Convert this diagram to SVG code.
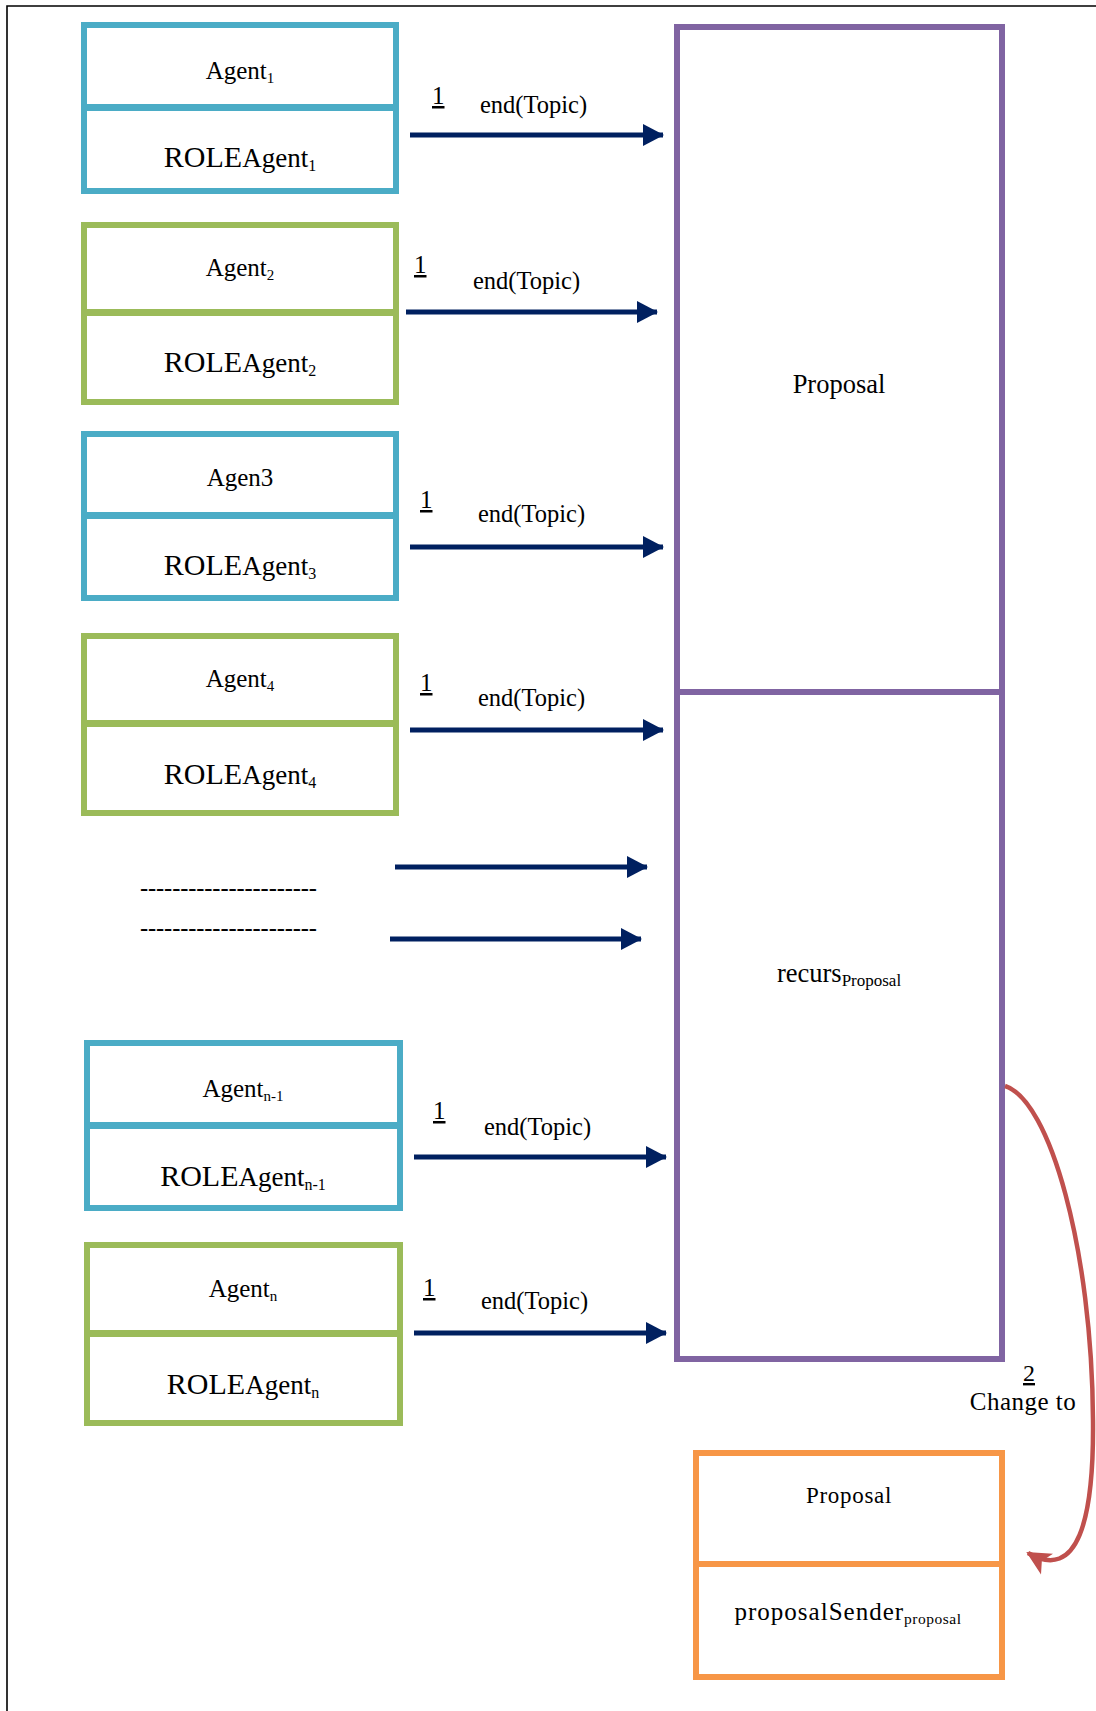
<svg xmlns="http://www.w3.org/2000/svg" width="1096" height="1711" viewBox="0 0 1096 1711">
<defs>
<style>
text{font-family:"Liberation Serif","Times New Roman",serif;fill:#000;text-anchor:middle}
.blue{fill:#fff;stroke:#4BACC6;stroke-width:6}
.green{fill:#fff;stroke:#9BBB59;stroke-width:6}
.purple{fill:#fff;stroke:#8064A2;stroke-width:6}
.orange{fill:#fff;stroke:#F79646;stroke-width:6}
.ag{font-size:25px}
.role{font-size:30px}
.lbl{font-size:24.5px;text-anchor:start}
.one{font-size:25px;text-anchor:start;text-decoration:underline}
.conn{stroke:#002060;stroke-width:5;fill:none;marker-end:url(#ah)}
</style>
<marker id="ah" markerUnits="userSpaceOnUse" markerWidth="22" markerHeight="22" refX="20" refY="11" orient="auto" viewBox="0 0 22 22">
<path d="M0,0 L21,11 L0,22 Z" fill="#002060"/>
</marker>
<marker id="rh" markerUnits="userSpaceOnUse" markerWidth="26" markerHeight="26" refX="22" refY="12" orient="auto" viewBox="0 0 26 24">
<path d="M0,0 L24,12 L0,24 L6,12 Z" fill="#C0504D"/>
</marker>
</defs>
<path d="M7,1711 L7,6 L1096,6" fill="none" stroke="#000" stroke-width="1.6"/>

<g id="agent1">
<rect class="blue" x="84" y="25" width="312" height="82"/>
<rect class="blue" x="84" y="108" width="312" height="83"/>
<text class="ag" x="240" y="79">Agent<tspan font-size="15" dy="4">1</tspan></text>
<text class="role" x="240" y="167">ROLE<tspan font-size="27">Agent</tspan><tspan font-size="16" dy="4">1</tspan></text>
</g>
<g id="agent2">
<rect class="green" x="84" y="225" width="312" height="87"/>
<rect class="green" x="84" y="313" width="312" height="89"/>
<text class="ag" x="240" y="276">Agent<tspan font-size="15" dy="4">2</tspan></text>
<text class="role" x="240" y="372">ROLE<tspan font-size="27">Agent</tspan><tspan font-size="16" dy="4">2</tspan></text>
</g>
<g id="agent3">
<rect class="blue" x="84" y="434" width="312" height="81"/>
<rect class="blue" x="84" y="516" width="312" height="82"/>
<text class="ag" x="240" y="486">Agen3</text>
<text class="role" x="240" y="575">ROLE<tspan font-size="27">Agent</tspan><tspan font-size="16" dy="4">3</tspan></text>
</g>
<g id="agent4">
<rect class="green" x="84" y="636" width="312" height="87"/>
<rect class="green" x="84" y="724" width="312" height="89"/>
<text class="ag" x="240" y="687">Agent<tspan font-size="15" dy="4">4</tspan></text>
<text class="role" x="240" y="784">ROLE<tspan font-size="27">Agent</tspan><tspan font-size="16" dy="4">4</tspan></text>
</g>
<g id="ellipsis">
<text class="lbl" x="140" y="896" font-size="18" textLength="177" lengthAdjust="spacing">----------------------</text>
<text class="lbl" x="140" y="936" font-size="18" textLength="177" lengthAdjust="spacing">----------------------</text>
</g>
<g id="agentn-1">
<rect class="blue" x="87" y="1043" width="313" height="82"/>
<rect class="blue" x="87" y="1126" width="313" height="82"/>
<text class="ag" x="243" y="1097">Agent<tspan font-size="15" dy="4">n-1</tspan></text>
<text class="role" x="243" y="1186">ROLE<tspan font-size="27">Agent</tspan><tspan font-size="16" dy="4">n-1</tspan></text>
</g>
<g id="agentn">
<rect class="green" x="87" y="1245" width="313" height="88"/>
<rect class="green" x="87" y="1334" width="313" height="89"/>
<text class="ag" x="243" y="1297">Agent<tspan font-size="15" dy="4">n</tspan></text>
<text class="role" x="243" y="1394">ROLE<tspan font-size="27">Agent</tspan><tspan font-size="16" dy="4">n</tspan></text>
</g>
<g id="proposal">
<rect class="purple" x="677" y="27" width="325" height="665"/>
<rect class="purple" x="677" y="692" width="325" height="667"/>
<text x="839" y="393" font-size="26.5">Proposal</text>
<text x="839" y="982" font-size="26.5">recurs<tspan font-size="17" dy="4">Proposal</tspan></text>
</g>
<g id="newproposal">
<rect class="orange" x="696" y="1453" width="306" height="111"/>
<rect class="orange" x="696" y="1564" width="306" height="113"/>
<text x="849" y="1503" font-size="23" letter-spacing="0.7">Proposal</text>
<text x="848" y="1620" font-size="25" letter-spacing="1">proposalSender<tspan font-size="15.5" dy="4" letter-spacing="0.5">proposal</tspan></text>
</g>
<g id="connectors">
<line class="conn" x1="410" y1="135" x2="663" y2="135"/>
<line class="conn" x1="406" y1="312" x2="657" y2="312"/>
<line class="conn" x1="410" y1="547" x2="663" y2="547"/>
<line class="conn" x1="410" y1="730" x2="663" y2="730"/>
<line class="conn" x1="395" y1="867" x2="647" y2="867"/>
<line class="conn" x1="390" y1="939" x2="641" y2="939"/>
<line class="conn" x1="414" y1="1157" x2="666" y2="1157"/>
<line class="conn" x1="414" y1="1333" x2="666" y2="1333"/>
<path d="M1005,1086 C1050,1100 1092,1250 1093,1420 C1094,1520 1078,1582 1028,1553" fill="none" stroke="#C0504D" stroke-width="4.5" marker-end="url(#rh)"/>
<text class="one" x="432" y="104">1</text>
<text class="lbl" x="480" y="113">end(Topic)</text>
<text class="one" x="414" y="273">1</text>
<text class="lbl" x="473" y="289">end(Topic)</text>
<text class="one" x="420" y="508">1</text>
<text class="lbl" x="478" y="522">end(Topic)</text>
<text class="one" x="420" y="691">1</text>
<text class="lbl" x="478" y="706">end(Topic)</text>
<text class="one" x="433" y="1119">1</text>
<text class="lbl" x="484" y="1135">end(Topic)</text>
<text class="one" x="423" y="1296">1</text>
<text class="lbl" x="481" y="1309">end(Topic)</text>
<text x="1029" y="1381" font-size="24" text-decoration="underline">2</text>
<text x="1023" y="1410" font-size="25" letter-spacing="0.5">Change to</text>
</g>
</svg>
